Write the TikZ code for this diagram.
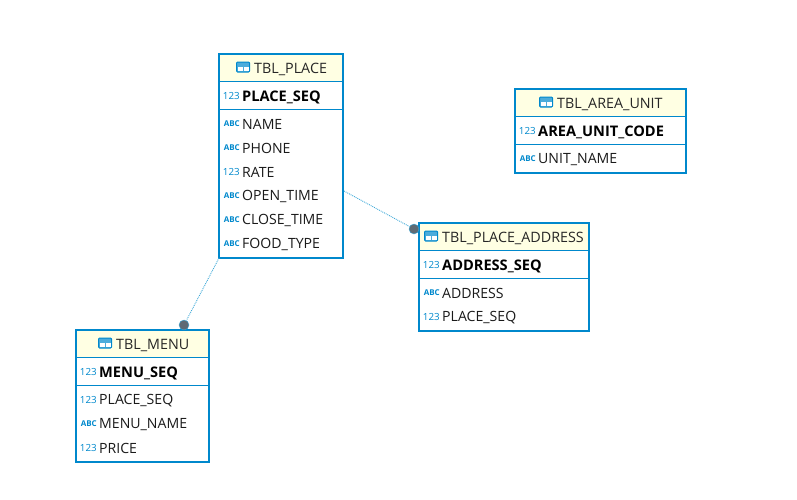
\documentclass[tikz,border=0pt]{standalone}
\usepackage{fontspec}
\setmainfont{Open Sans}
\usetikzlibrary{positioning}
\definecolor{tblblue}{HTML}{0088CC}
\definecolor{tblhead}{HTML}{FFFFE3}
\definecolor{tbldot}{HTML}{5E6A74}
\definecolor{tbllink}{HTML}{3FA9D8}
\tikzset{
  tblbox/.style={draw=tblblue,line width=2pt,anchor=north west,inner sep=0pt,outer sep=0pt},
  tblfill/.style={fill=tblhead,anchor=north west,inner sep=0pt,outer sep=0pt},
  tbltitle/.style={font=\fontsize{14.3}{16}\selectfont,text=black!85,anchor=west,inner sep=0pt,yshift=-1pt},
  pkrow/.style={font=\fontsize{14.6}{16}\selectfont\bfseries,anchor=west,inner sep=0pt,yshift=-1pt},
  colrow/.style={font=\fontsize{14.1}{16}\selectfont,text=black!90,anchor=west,inner sep=0pt,yshift=-0.7pt},
  numtag/.style={font=\fontsize{9.8}{11}\selectfont,text=tblblue,anchor=east,inner sep=0pt,yshift=-1pt},
  abctag/.style={font=\fontsize{8}{9}\selectfont\bfseries,text=tblblue,anchor=east,inner sep=0pt,yshift=-1pt},
  sepline/.style={draw=tblblue,line width=0.9pt},
  linkdot/.style={circle,fill=tbldot,draw=tbllink,line width=0.4pt,minimum size=10pt,inner sep=0pt},
  linkline/.style={draw=tbllink,line width=0.9pt,densely dotted},
  tblicon/.pic={
    \fill[tblblue!70] (-6.5,-5) rectangle (6.5,5);
    \draw[tblblue,line width=1pt,rounded corners=1pt] (-6.5,-5) rectangle (6.5,5);
    \fill[white] (-5.5,0) rectangle (-0.5,4);
    \fill[white] (0.5,0) rectangle (5.5,4);
  }
}
\begin{document}
\begin{tikzpicture}[x=1pt,y=-1pt]
\useasboundingbox (0,0) rectangle (797,499);

% TBL_PLACE
\node[tblfill,minimum width=124pt,minimum height=27pt] (placehead) at (219,54) {};
\node[tblbox,minimum width=124pt,minimum height=204pt] (place) at (219,54) {};
\pic at (243,67) {tblicon};
\node[tbltitle] (placetitle) at (254,68) {TBL\_PLACE};
\draw[sepline] (219,81) -- (343,81);
\draw[sepline] (219,109) -- (343,109);
\node[numtag] (p0t) at (240,95) {123};
\node[pkrow] (p0) at (242,96) {PLACE\_SEQ};
\node[abctag] (p1t) at (240,123) {ABC};
\node[colrow] (p1) at (242,124) {NAME};
\node[abctag] (p2t) at (240,147) {ABC};
\node[colrow] (p2) at (242,148) {PHONE};
\node[numtag] (p3t) at (240,171) {123};
\node[colrow] (p3) at (242,172) {RATE};
\node[abctag] (p4t) at (240,195) {ABC};
\node[colrow] (p4) at (242,196) {OPEN\_TIME};
\node[abctag] (p5t) at (240,219) {ABC};
\node[colrow] (p5) at (242,220) {CLOSE\_TIME};
\node[abctag] (p6t) at (240,243) {ABC};
\node[colrow] (p6) at (242,244) {FOOD\_TYPE};

% TBL_AREA_UNIT
\node[tblfill,minimum width=171pt,minimum height=27pt] (areahead) at (515,89) {};
\node[tblbox,minimum width=171pt,minimum height=84pt] (area) at (515,89) {};
\pic at (546,102) {tblicon};
\node[tbltitle] (areatitle) at (557,103) {TBL\_AREA\_UNIT};
\draw[sepline] (515,116) -- (686,116);
\draw[sepline] (515,144) -- (686,144);
\node[numtag] (a0t) at (536,130) {123};
\node[pkrow] (a0) at (538,131) {AREA\_UNIT\_CODE};
\node[abctag] (a1t) at (536,158) {ABC};
\node[colrow] (a1) at (538,159) {UNIT\_NAME};

% TBL_PLACE_ADDRESS
\node[tblfill,minimum width=170pt,minimum height=27pt] (addrhead) at (419,223) {};
\node[tblbox,minimum width=170pt,minimum height=108pt] (addr) at (419,223) {};
\pic at (431,236) {tblicon};
\node[tbltitle] (addrtitle) at (442,237) {TBL\_PLACE\_ADDRESS};
\draw[sepline] (419,250) -- (589,250);
\draw[sepline] (419,278) -- (589,278);
\node[numtag] (d0t) at (440,264) {123};
\node[pkrow] (d0) at (442,265) {ADDRESS\_SEQ};
\node[abctag] (d1t) at (440,292) {ABC};
\node[colrow] (d1) at (442,293) {ADDRESS};
\node[numtag] (d2t) at (440,316) {123};
\node[colrow] (d2) at (442,317) {PLACE\_SEQ};

% TBL_MENU
\node[tblfill,minimum width=133pt,minimum height=27pt] (menuhead) at (76,330) {};
\node[tblbox,minimum width=133pt,minimum height=132pt] (menu) at (76,330) {};
\pic at (105,343) {tblicon};
\node[tbltitle] (menutitle) at (116,344) {TBL\_MENU};
\draw[sepline] (76,357) -- (209,357);
\draw[sepline] (76,385) -- (209,385);
\node[numtag] (m0t) at (97,371) {123};
\node[pkrow] (m0) at (99,372) {MENU\_SEQ};
\node[numtag] (m1t) at (97,399) {123};
\node[colrow] (m1) at (99,400) {PLACE\_SEQ};
\node[abctag] (m2t) at (97,423) {ABC};
\node[colrow] (m2) at (99,424) {MENU\_NAME};
\node[numtag] (m3t) at (97,447) {123};
\node[colrow] (m3) at (99,448) {PRICE};

% links
\coordinate (placeexit) at (344,191);
\node[linkdot] (addrdot) at (414,229) {};
\node[linkdot] (menudot) at (184,325) {};
\draw[linkline] (placeexit) -- (addrdot);
\draw[linkline] (place.south west) -- (menudot);
\end{tikzpicture}
\end{document}
